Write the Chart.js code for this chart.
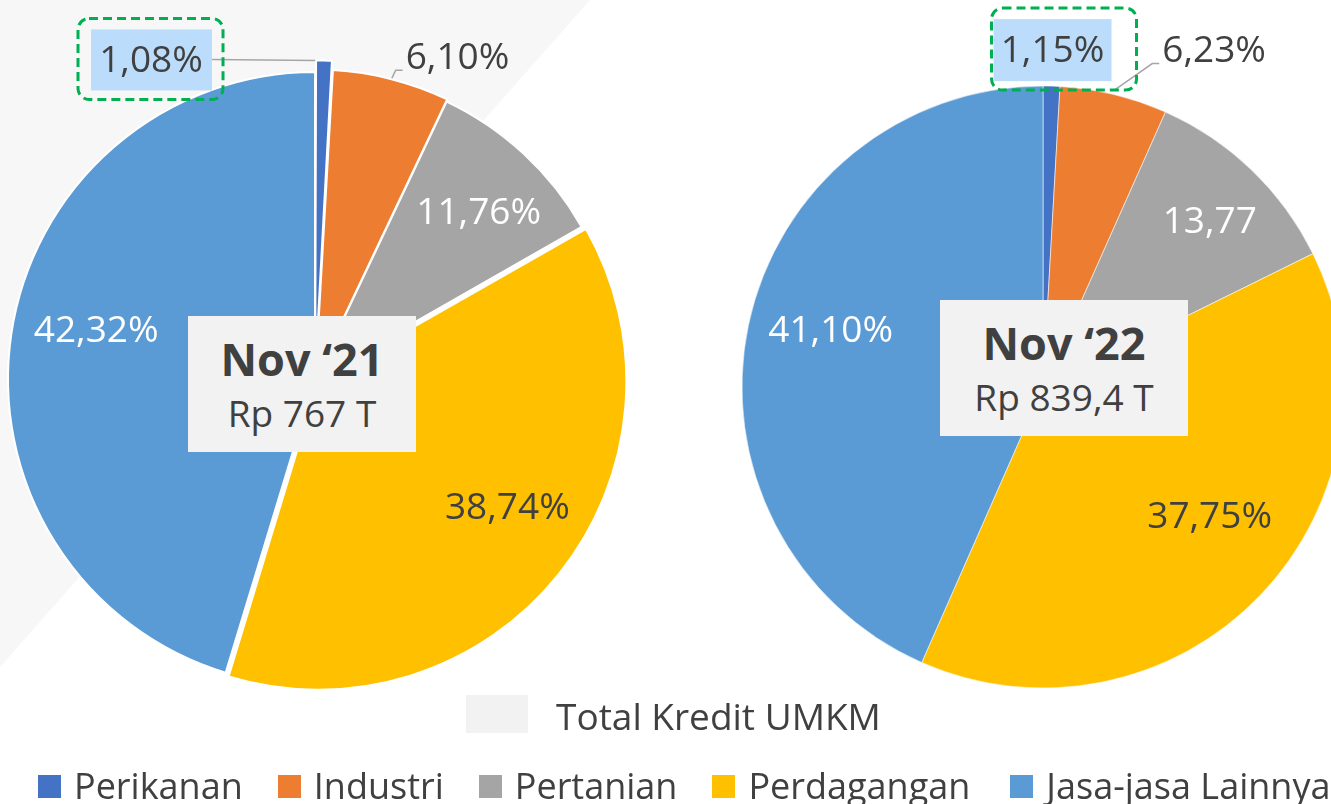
<!DOCTYPE html>
<html>
<head>
<meta charset="utf-8">
<title>Kredit UMKM per sektor</title>
<script src="https://cdn.jsdelivr.net/npm/chart.js@4.4.1/dist/chart.umd.min.js"></script>
<style>
  html, body { margin: 0; padding: 0; }
  body {
    width: 1331px; height: 804px; overflow: hidden; position: relative;
    background: #fff; font-family: "Open Sans", sans-serif; color: #404040;
  }
  #shade {
    position: absolute; left: 0; top: 0; width: 600px; height: 680px;
    background: #f7f7f7; clip-path: polygon(0 0, 590px 0, 0 667px);
  }
  canvas { position: absolute; top: 0; }
  #pie21 { left: 0; }
  #pie22 { left: 698px; }
  .period {
    position: absolute; height: 136px; background: #f2f2f2;
    text-align: center; white-space: nowrap;
  }
  .period .name { font-weight: 700; font-size: 45px; line-height: 54px; margin-top: 16px; }
  .period .total { font-size: 37px; line-height: 54px; }
  #p21 { left: 188px; top: 316px; width: 228px; }
  #p22 { left: 940px; top: 300px; width: 248px; }
  #totalLegend { position: absolute; left: 466px; top: 694px; font-size: 37px; line-height: 44px; white-space: nowrap; }
  #totalLegend .swatch { position: absolute; left: 0; top: 1px; width: 62px; height: 38px; background: #f2f2f2; }
  #totalLegend span { position: absolute; left: 90px; top: 0; }
  #legend {
    position: absolute; left: 38px; top: 764px; display: flex; align-items: center;
    font-size: 36px; line-height: 44px; white-space: nowrap;
  }
  #legend .item { display: flex; align-items: center; margin-right: 35px; }
  #legend .item:nth-child(4) { margin-right: 40px; }
  #legend .swatch { width: 23px; height: 23px; margin-right: 13px; }
</style>
</head>
<body>
<div id="shade"></div>
<canvas id="pie21" width="630" height="758"></canvas>
<canvas id="pie22" width="690" height="774"></canvas>
<div class="period" id="p21"><div class="name"></div><div class="total"></div></div>
<div class="period" id="p22"><div class="name"></div><div class="total"></div></div>
<div id="totalLegend"><div class="swatch"></div><span></span></div>
<div id="legend"></div>
<script>
const categories = ['Perikanan', 'Industri', 'Pertanian', 'Perdagangan', 'Jasa-jasa Lainnya'];
const colors = ['#4472C4', '#ED7D31', '#A5A5A5', '#FFC000', '#5B9BD5'];

// slice sizes as drawn in the picture (the printed labels don't quite add up to the slices)
const nov21Shares = [0.9, 6.15, 9.7, 37.95, 45.3];
const nov22Shares = [0.9, 5.77, 11.03, 38.9, 43.4];

// labels as printed
const nov21Labels = ['1,08%', '6,10%', '11,76%', '38,74%', '42,32%'];
const nov22Labels = ['1,15%', '6,23%', '13,77', '37,75%', '41,10%'];

const periods = ['Nov \u201821', 'Nov \u201822'];
const totals = ['Rp 767 T', 'Rp 839,4 T'];
const totalLegendText = 'Total Kredit UMKM';

const DARK = '#404040';
const LABEL_FONT = '37px "Open Sans"';

// where each slice label goes (angle nudge in degrees, share of radius, or a callout)
const place21 = [
    { callout: true, dx: -173, dy: 0, gap: 0, leader: 'side', box: [-60, -31, 121, 61], frame: [-73, -42, 145, 81] },
    { callout: true, dx: 66, dy: -22, gap: 0, leader: 'elbow' },
    { shift: 1.7, frac: 0.76, color: '#fff' },
    { shift: -5, frac: 0.74, color: DARK },
    { shift: 4, frac: 0.73, color: '#fff' }
];
const place22 = [
    { callout: true, dx: 1, dy: -36, gap: 0, leader: null, box: [-59, -31, 118, 62], frame: [-61, -42, 145, 82] },
    { callout: true, dx: 99, dy: -39, gap: 5, leader: 'elbow' },
    { shift: 1.4, frac: 0.78, color: '#fff' },
    { shift: -6, frac: 0.70, color: DARK },
    { shift: 3, frac: 0.73, color: '#fff' }
];

// point along a slice's middle, following how Chart.js shifts an offset arc
function slicePoint(arc, shiftDeg, radius, extra) {
    const p = arc.getProps(['x', 'y', 'startAngle', 'endAngle', 'outerRadius', 'circumference'], true);
    const off = (arc.options.offset || 0) / 4;
    const fix = 1 - Math.sin(Math.min(Math.PI, p.circumference || 0));
    const mid = (p.startAngle + p.endAngle) / 2;
    const a = mid + shiftDeg * Math.PI / 180;
    const r = radius === null ? p.outerRadius + off * fix + extra : radius;
    return {
        x: p.x + Math.cos(mid) * off + Math.cos(a) * r,
        y: p.y + Math.sin(mid) * off + Math.sin(a) * r
    };
}

function labelPlugin(texts, placement) {
    function anchors(chart) {
        const arcs = chart.getDatasetMeta(0).data;
        return arcs.map((arc, i) => {
            const pl = placement[i];
            if (pl.callout) {
                const a = slicePoint(arc, 0, null, pl.gap);
                return { a: a, x: a.x + pl.dx, y: a.y + pl.dy };
            }
            const p = slicePoint(arc, pl.shift, arc.outerRadius * pl.frac, 0);
            return { x: p.x, y: p.y };
        });
    }
    return {
        id: 'sliceLabels',
        beforeDatasetsDraw(chart) {
            const ctx = chart.ctx;
            ctx.save();
            ctx.font = LABEL_FONT;
            ctx.strokeStyle = '#a6a6a6';
            ctx.lineWidth = 1.5;
            anchors(chart).forEach((pos, i) => {
                const pl = placement[i];
                if (!pl.callout || !pl.leader) return;
                ctx.beginPath();
                if (pl.leader === 'side') {
                    ctx.moveTo(pos.x + pl.box[0] + pl.box[2], pos.y - 1);
                    ctx.lineTo(pos.a.x - 8, pos.a.y);
                } else {
                    const w = ctx.measureText(texts[i]).width;
                    ctx.moveTo(pos.a.x, pos.a.y);
                    ctx.lineTo(pos.x - w / 2 - 10, pos.y + 13);
                    ctx.lineTo(pos.x - w / 2 - 3, pos.y + 13);
                }
                ctx.stroke();
            });
            ctx.restore();
        },
        afterDatasetsDraw(chart) {
            const ctx = chart.ctx;
            ctx.save();
            ctx.font = LABEL_FONT;
            ctx.textAlign = 'center';
            ctx.textBaseline = 'middle';
            anchors(chart).forEach((pos, i) => {
                const pl = placement[i];
                if (pl.box) {
                    ctx.fillStyle = '#BBDCFA';
                    ctx.fillRect(pos.x + pl.box[0], pos.y + pl.box[1], pl.box[2], pl.box[3]);
                }
                if (pl.frame) {
                    ctx.save();
                    ctx.strokeStyle = '#00B050';
                    ctx.lineWidth = 3;
                    ctx.setLineDash([9, 5]);
                    ctx.beginPath();
                    ctx.roundRect(pos.x + pl.frame[0], pos.y + pl.frame[1], pl.frame[2], pl.frame[3], 11);
                    ctx.stroke();
                    ctx.restore();
                }
                ctx.fillStyle = pl.callout ? DARK : pl.color;
                ctx.fillText(texts[i], pos.x, pos.y + 1);
            });
            ctx.restore();
        }
    };
}

function makePie(id, values, texts, placement, offsets, border) {
    const ctx = document.getElementById(id).getContext('2d');
    return new Chart(ctx, {
        type: 'pie',
        data: {
            labels: categories,
            datasets: [{
                data: values,
                backgroundColor: colors,
                borderColor: border.color,
                borderWidth: border.width,
                offset: offsets
            }]
        },
        options: {
            responsive: false,
            animation: false,
            events: [],
            radius: border.radius,
            layout: { padding: 0 },
            plugins: {
                legend: { display: false },
                tooltip: { enabled: false }
            }
        },
        plugins: [labelPlugin(texts, placement)]
    });
}

makePie('pie21', nov21Shares, nov21Labels, place21, [24, 6, 0, 16, 0], { color: '#fff', width: 2, radius: 307 });
makePie('pie22', nov22Shares, nov22Labels, place22, [0, 0, 0, 0, 0], { color: 'rgba(255,255,255,0.55)', width: 1, radius: 301 });

['p21', 'p22'].forEach((id, i) => {
    const box = document.getElementById(id);
    box.querySelector('.name').textContent = periods[i];
    box.querySelector('.total').textContent = totals[i];
});

document.querySelector('#totalLegend span').textContent = totalLegendText;

const legend = document.getElementById('legend');
legend.innerHTML = categories.map((name, i) =>
    `<div class="item"><div class="swatch" style="background:${colors[i]}"></div><span>${name}</span></div>`
).join('');
</script>
</body>
</html>
